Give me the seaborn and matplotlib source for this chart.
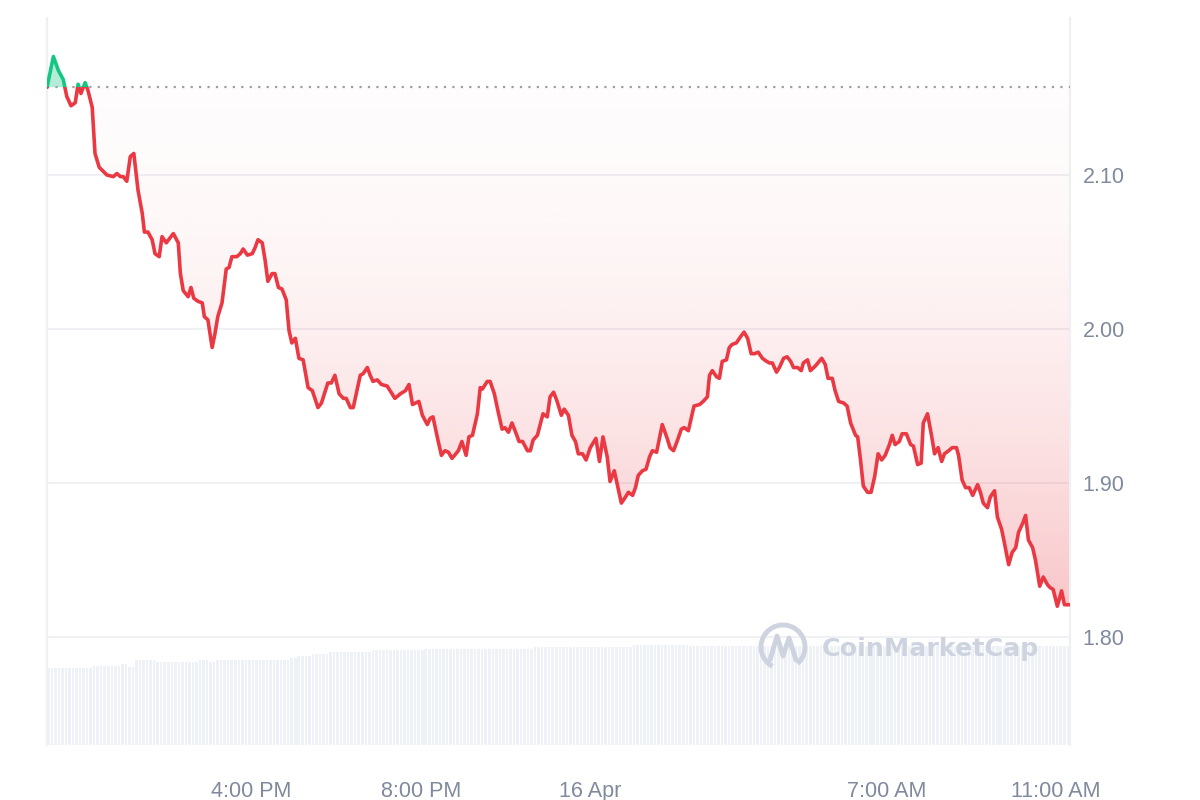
import numpy as np
import pandas as pd
import seaborn as sns
import matplotlib
matplotlib.use("Agg")
import matplotlib.pyplot as plt
import matplotlib.dates as mdates
from matplotlib.patches import Rectangle, Arc
from matplotlib.lines import Line2D

# price readings: minutes after 15 Apr 11:10, price in USD
minutes = [0, 9, 16, 23, 28, 34, 40, 44, 48, 54, 58, 64, 68, 74, 85, 94, 99, 104, 108, 113,
           118, 123, 129, 135, 138, 143, 149, 153, 159, 163, 169, 179, 186, 189, 193, 200, 204, 208, 214, 220,
           223, 228, 234, 238, 242, 248, 254, 258, 262, 269, 274, 278, 284, 291, 295, 299, 305, 309, 313, 319,
           323, 328, 333, 339, 343, 347, 352, 357, 363, 370, 376, 384, 389, 398, 403, 408, 414, 420, 424, 430,
           434, 444, 448, 454, 458, 462, 468, 474, 482, 489, 493, 501, 508, 513, 518, 527, 532, 539, 543, 547,
           554, 559, 564, 569, 574, 583, 588, 594, 598, 603, 610, 614, 617, 624, 628, 634, 640, 645, 649, 654,
           659, 665, 669, 674, 681, 685, 689, 695, 703, 709, 713, 718, 723, 729, 733, 739, 744, 749, 753, 759,
           764, 770, 778, 783, 788, 794, 798, 804, 814, 820, 824, 830, 834, 838, 844, 849, 854, 858, 864, 872,
           879, 883, 888, 893, 899, 903, 909, 917, 925, 930, 936, 939, 943, 949, 953, 957, 963, 967, 971, 977,
           983, 988, 993, 998, 1003, 1008, 1014, 1020, 1024, 1028, 1034, 1038, 1044, 1049, 1054, 1058, 1064, 1069, 1072, 1078,
           1082, 1089, 1098, 1103, 1107, 1113, 1117, 1122, 1129, 1134, 1139, 1146, 1149, 1153, 1157, 1163, 1168, 1173, 1178, 1183,
           1188, 1194, 1198, 1202, 1208, 1212, 1218, 1224, 1228, 1234, 1239, 1242, 1248, 1254, 1258, 1263, 1268, 1272, 1278, 1283,
           1289, 1292, 1297, 1302, 1307, 1312, 1319, 1323, 1327, 1333, 1337, 1343, 1347, 1353, 1357, 1363, 1368, 1373, 1377, 1383,
           1387, 1391, 1397, 1401, 1407, 1412, 1418, 1422, 1426, 1432, 1438, 1442, 1449]
price = [2.157, 2.177, 2.168, 2.162, 2.151, 2.145, 2.147, 2.159, 2.153, 2.160, 2.155, 2.144, 2.114, 2.105, 2.100, 2.099, 2.101, 2.099, 2.099, 2.096,
         2.112, 2.114, 2.090, 2.075, 2.063, 2.063, 2.058, 2.049, 2.047, 2.060, 2.056, 2.062, 2.056, 2.036, 2.025, 2.021, 2.027, 2.020, 2.018, 2.017,
         2.008, 2.006, 1.988, 1.997, 2.008, 2.017, 2.039, 2.040, 2.047, 2.047, 2.049, 2.052, 2.048, 2.049, 2.053, 2.058, 2.056, 2.045, 2.031, 2.036,
         2.036, 2.027, 2.026, 2.019, 1.999, 1.991, 1.994, 1.981, 1.980, 1.962, 1.960, 1.949, 1.952, 1.965, 1.965, 1.970, 1.958, 1.955, 1.955, 1.949,
         1.949, 1.970, 1.971, 1.975, 1.970, 1.966, 1.967, 1.964, 1.963, 1.958, 1.955, 1.958, 1.960, 1.964, 1.951, 1.953, 1.944, 1.938, 1.942, 1.943,
         1.928, 1.918, 1.921, 1.920, 1.916, 1.921, 1.927, 1.918, 1.930, 1.931, 1.945, 1.962, 1.961, 1.966, 1.966, 1.958, 1.945, 1.935, 1.936, 1.933,
         1.939, 1.932, 1.927, 1.927, 1.921, 1.921, 1.928, 1.931, 1.945, 1.943, 1.956, 1.959, 1.953, 1.944, 1.948, 1.944, 1.931, 1.927, 1.919, 1.919,
         1.915, 1.923, 1.929, 1.914, 1.930, 1.917, 1.901, 1.908, 1.887, 1.891, 1.894, 1.892, 1.897, 1.905, 1.908, 1.909, 1.917, 1.921, 1.920, 1.938,
         1.929, 1.923, 1.921, 1.927, 1.935, 1.936, 1.934, 1.950, 1.951, 1.953, 1.956, 1.970, 1.973, 1.969, 1.968, 1.979, 1.980, 1.988, 1.990, 1.991,
         1.995, 1.998, 1.994, 1.984, 1.984, 1.985, 1.981, 1.979, 1.978, 1.978, 1.972, 1.975, 1.981, 1.982, 1.979, 1.975, 1.975, 1.973, 1.978, 1.980,
         1.973, 1.976, 1.981, 1.977, 1.968, 1.968, 1.960, 1.953, 1.952, 1.950, 1.939, 1.931, 1.930, 1.915, 1.898, 1.894, 1.894, 1.904, 1.919, 1.915,
         1.918, 1.925, 1.931, 1.925, 1.927, 1.932, 1.932, 1.925, 1.924, 1.912, 1.913, 1.939, 1.945, 1.930, 1.919, 1.923, 1.914, 1.919, 1.921, 1.923,
         1.923, 1.918, 1.902, 1.897, 1.897, 1.892, 1.899, 1.894, 1.887, 1.884, 1.891, 1.895, 1.878, 1.870, 1.861, 1.847, 1.855, 1.858, 1.868, 1.874,
         1.879, 1.863, 1.858, 1.850, 1.833, 1.839, 1.834, 1.832, 1.831, 1.820, 1.830, 1.821, 1.821]

# volume bars (5 min each), run-length: level and number of bars
vol_levels = [77, 79, 81, 78, 85, 83, 85, 83, 85, 87, 89, 91, 93, 95, 96, 98, 100, 99]
vol_counts = [13, 8, 2, 2, 6, 12, 3, 2, 21, 2, 4, 5, 12, 15, 31, 28, 16, 108]

tick_times = ["2025-04-15 16:00", "2025-04-15 20:00", "2025-04-16 00:00", "2025-04-16 07:00", "2025-04-16 11:00"]
tick_labels = ["4:00 PM", "8:00 PM", "16 Apr", "7:00 AM", "11:00 AM"]
y_ticks = [1.80, 1.90, 2.00, 2.10]

start = pd.Timestamp("2025-04-15 11:10")
df = pd.DataFrame({"time": start + pd.to_timedelta(minutes, unit="min"), "price": price})
base = price[0]

RED = "#EA3943"
GREEN = "#16C784"
GREY_TXT = "#808A9D"
GRID = "#EEF0F3"

sns.set_style("white")
plt.rcParams["font.family"] = ["Liberation Sans", "DejaVu Sans"]

fig = plt.figure(figsize=(12, 8), dpi=100)
ax_v = fig.add_axes([0.0392, 0.06875, 0.8525, 0.90875])
ax = ax_v.twinx()

# volume
vol = np.repeat(vol_levels, vol_counts)
bar_t = pd.date_range(start, periods=len(vol), freq="5min")
ax_v.bar(mdates.date2num(bar_t), vol, width=5 / 1440 * 0.72, align="edge",
         color="#EEF1F5", linewidth=0, zorder=1)
ax_v.set_ylim(0, 727)
ax_v.set_yticks([])

x0 = mdates.date2num(start)
x1 = mdates.date2num(start + pd.Timedelta(minutes=1450))
ax_v.set_xlim(x0, x1)

# price
ybot, ytop = 1.7299, 2.202
xs = mdates.date2num(df["time"])
p = np.array(price)

# gradient fill between baseline and line (below baseline)
low = np.minimum(p, base)
poly = ax.fill_between(xs, low, base, facecolor="none", edgecolor="none")
ny = 300
yy = np.linspace(base, ybot, ny)
frac = np.clip((base - yy) / (base - 1.80), 0, 1.05)
alpha = 0.015 + 0.30 * frac ** 1.8
rgba = np.zeros((ny, 1, 4))
rgba[..., 0] = 234 / 255
rgba[..., 1] = 57 / 255
rgba[..., 2] = 67 / 255
rgba[..., 3] = alpha[:, None]
im = ax.imshow(rgba, extent=[x0, x1, ybot, base], origin="upper", aspect="auto", zorder=2)
im.set_clip_path(poly.get_paths()[0], ax.transData)

# green fill above baseline
ax.fill_between(xs, base, p, where=p >= base, interpolate=True, color=GREEN, alpha=0.32,
                linewidth=0, zorder=2)

# baseline
ax.axhline(base, color="#9AA0A8", lw=1.6, ls=(0, (1, 2.8)), zorder=3)

# line, red below baseline, green above
sns.lineplot(data=df, x=xs, y="price", ax=ax, color=RED, lw=2.6, zorder=4)
red_line = ax.lines[-1]
sns.lineplot(data=df, x=xs, y="price", ax=ax, color=GREEN, lw=2.6, zorder=5)
green_line = ax.lines[-1]
green_line.set_clip_path(Rectangle((x0, base), x1 - x0, 1.0, transform=ax.transData))
red_line.set_clip_path(Rectangle((x0, base - 1.0), x1 - x0, 1.0, transform=ax.transData))
ax.set_ylim(ybot, ytop)
ax.set_xlim(x0, x1)

# axes styling
ax.set_yticks(y_ticks)
ax.set_yticklabels([f"{v:.2f}" for v in y_ticks])
ax.yaxis.tick_right()
ax.tick_params(axis="y", length=0, pad=9, labelsize=15.5, labelcolor=GREY_TXT)
ax.grid(axis="y", color=GRID, lw=1.3)
ax.set_axisbelow(True)
ax.set_xlabel("")
ax.set_ylabel("")

ax_v.set_xticks(mdates.date2num(pd.to_datetime(tick_times)))
ax_v.set_xticklabels(tick_labels)
ax_v.tick_params(axis="x", length=0, pad=26, labelsize=15.5, labelcolor=GREY_TXT)

for a in (ax, ax_v):
    a.spines["top"].set_visible(False)
    a.spines["bottom"].set_visible(False)
    a.spines["left"].set_color(GRID)
    a.spines["right"].set_color(GRID)
    a.spines["left"].set_linewidth(1.5)
    a.spines["right"].set_linewidth(1.5)

# watermark
wm = "#CDD4E0"
fig.patches.append(Arc((783 / 1200, 1 - 647 / 800), 44 / 1200, 44 / 800, theta1=-60, theta2=250,
                       transform=fig.transFigure, color=wm, lw=3.5, zorder=6))
fig.lines.append(Line2D([770 / 1200, 777 / 1200, 783 / 1200, 789 / 1200, 796 / 1200],
                        [1 - 660 / 800, 1 - 636 / 800, 1 - 656 / 800, 1 - 638 / 800, 1 - 660 / 800],
                        transform=fig.transFigure, color=wm, lw=3.5, solid_capstyle="round",
                        solid_joinstyle="round", zorder=6))
fig.text(822 / 1200, 1 - 649 / 800, "CoinMarketCap", family="DejaVu Sans", weight="bold",
         fontsize=18.3, color=wm, va="center", ha="left", zorder=6)

fig.savefig("out.png", dpi=100)
